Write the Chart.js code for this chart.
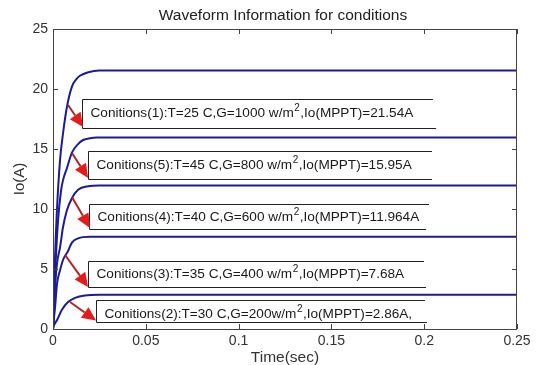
<!DOCTYPE html>
<html><head><meta charset="utf-8">
<script src="https://cdn.jsdelivr.net/npm/chart.js@4"></script>
<style>html,body{margin:0;padding:0;background:#fff}#c{display:block}</style>
</head><body>
<canvas id="c" width="537" height="365"></canvas>
<script>
// ---- data ----
const xTicks = [0, 0.05, 0.1, 0.15, 0.2, 0.25];
const yTicks = [0, 5, 10, 15, 20, 25];

const timeC1 = [0, 0.0005, 0.001, 0.002, 0.0038, 0.0054, 0.0075, 0.0102, 0.0125, 0.0145, 0.019, 0.025, 0.25];
const ioC1   = [0, 2.5, 5.5, 9.5, 14.1, 16.3, 18.5, 20.2, 20.8, 21.1, 21.4, 21.54, 21.54];

const timeC5 = [0, 0.0005, 0.0011, 0.0027, 0.0043, 0.0054, 0.0075, 0.0102, 0.0135, 0.0162, 0.02, 0.0237, 0.25];
const ioC5   = [0, 2, 4.5, 9, 11.5, 12.4, 13.4, 14.7, 15.4, 15.75, 15.9, 15.95, 15.95];

const timeC4 = [0, 0.0005, 0.0011, 0.0022, 0.0038, 0.0054, 0.0075, 0.0102, 0.0135, 0.0189, 0.025, 0.25];
const ioC4   = [0, 1.8, 3.5, 5.5, 6.8, 8.5, 9.9, 10.9, 11.6, 11.9, 11.964, 11.964];

const timeC3 = [0, 0.0005, 0.0011, 0.0022, 0.0038, 0.0054, 0.0081, 0.0102, 0.0135, 0.02, 0.25];
const ioC3   = [0, 0.9, 1.8, 3.8, 4.9, 5.75, 6.5, 7.2, 7.55, 7.68, 7.68];

const timeC2 = [0, 0.0005, 0.0022, 0.0048, 0.0081, 0.0119, 0.0172, 0.025, 0.25];
const ioC2   = [0, 0.3, 0.75, 1.6, 2.25, 2.6, 2.8, 2.86, 2.86];

const labelTexts = [
  "Conitions(1):T=25 C,G=1000 w/m^2,Io(MPPT)=21.54A",
  "Conitions(5):T=45 C,G=800 w/m^2,Io(MPPT)=15.95A",
  "Conitions(4):T=40 C,G=600 w/m^2,Io(MPPT)=11.964A",
  "Conitions(3):T=35 C,G=400 w/m^2,Io(MPPT)=7.68A",
  "Conitions(2):T=30 C,G=200w/m^2,Io(MPPT)=2.86A,"
];

// annotation placement in data units: box left, top, bottom, top-line end, bottom-line end, text y, arrow from (t,I) to (t,I)
const notes = [
  {x0:0.0156, top:19.17, bot:16.75, endTop:0.2047, endBot:0.2064, ty:17.95, a:[0.0081,18.67,0.0162,16.83]},
  {x0:0.0189, top:14.83, bot:12.5,  endTop:0.2042, endBot:0.2042, ty:13.67, a:[0.0102,14.67,0.0189,12.58]},
  {x0:0.0194, top:10.42, bot:8.33,  endTop:0.2026, endBot:0.201,  ty:9.3,  a:[0.0102,11.0,0.0199,8.42]},
  {x0:0.0189, top:5.67,  bot:3.5,   endTop:0.1999, endBot:0.201,  ty:4.55, a:[0.0065,6.17,0.0189,3.5]},
  {x0:0.0232, top:2.42,  bot:0.58,  endTop:0.2004, endBot:0.2015, ty:1.25, a:[0.0092,2.25,0.0232,0.7]}
];

const FONT = '"Liberation Sans", Arial, sans-serif';
const lineColor = '#1c1c96';

function pts(t, v){ return t.map((x,i)=>({x:x, y:v[i]})); }

const series = [[timeC1,ioC1],[timeC5,ioC5],[timeC4,ioC4],[timeC3,ioC3],[timeC2,ioC2]];

const overlay = {
  id:'overlay',
  afterDatasetsDraw(chart){
    const ctx = chart.ctx, xs = chart.scales.x, ys = chart.scales.y, a = chart.chartArea;
    ctx.save();
    // frame
    ctx.strokeStyle = '#444'; ctx.lineWidth = 1;
    ctx.strokeRect(Math.round(a.left)+0.5, Math.round(a.top)+0.5, Math.round(a.right-a.left)-1, Math.round(a.bottom-a.top));
    // inward ticks
    ctx.beginPath();
    xTicks.forEach(v=>{ const px = Math.round(xs.getPixelForValue(v))+0.5;
      ctx.moveTo(px, a.bottom); ctx.lineTo(px, a.bottom-5);
      ctx.moveTo(px, a.top); ctx.lineTo(px, a.top+5); });
    yTicks.forEach(v=>{ const py = Math.round(ys.getPixelForValue(v))+0.5;
      ctx.moveTo(a.left, py); ctx.lineTo(a.left+5, py);
      ctx.moveTo(a.right, py); ctx.lineTo(a.right-5, py); });
    ctx.stroke();

    // annotations
    notes.forEach((n,i)=>{
      const L = Math.round(xs.getPixelForValue(n.x0))+0.5;
      const T = Math.round(ys.getPixelForValue(n.top))+0.5;
      const B = Math.round(ys.getPixelForValue(n.bot))+0.5;
      const ET = xs.getPixelForValue(n.endTop), EB = xs.getPixelForValue(n.endBot);
      ctx.strokeStyle = '#222'; ctx.lineWidth = 1;
      ctx.beginPath();
      ctx.moveTo(ET, T); ctx.lineTo(L, T); ctx.lineTo(L, B); ctx.lineTo(EB, B);
      ctx.stroke();
      // text with superscript
      const ty = ys.getPixelForValue(n.ty);
      const parts = labelTexts[i].split('^2');
      let x = L + 8;
      ctx.fillStyle = '#1a1a1a'; ctx.textBaseline = 'middle'; ctx.textAlign = 'left';
      ctx.font = '13.6px ' + FONT;
      ctx.fillText(parts[0], x, ty); x += ctx.measureText(parts[0]).width;
      ctx.font = '10px ' + FONT;
      ctx.fillText('2', x + 0.5, ty-5); x += ctx.measureText('2').width + 1;
      ctx.font = '13.6px ' + FONT;
      ctx.fillText(parts[1], x, ty);
      // arrow
      const x1 = xs.getPixelForValue(n.a[0]), y1 = ys.getPixelForValue(n.a[1]);
      const x2 = xs.getPixelForValue(n.a[2]), y2 = ys.getPixelForValue(n.a[3]);
      const ang = Math.atan2(y2-y1, x2-x1), hl = 14, hw = 6.5;
      const bx = x2 - hl*Math.cos(ang), by = y2 - hl*Math.sin(ang);
      ctx.strokeStyle = '#b02424'; ctx.lineWidth = 2;
      ctx.beginPath(); ctx.moveTo(x1,y1); ctx.lineTo(bx,by); ctx.stroke();
      ctx.fillStyle = '#e41c1c';
      ctx.beginPath();
      ctx.moveTo(x2,y2);
      ctx.lineTo(bx + hw*Math.sin(ang), by - hw*Math.cos(ang));
      ctx.lineTo(bx - hw*Math.sin(ang), by + hw*Math.cos(ang));
      ctx.closePath(); ctx.fill();
    });

    // title
    ctx.fillStyle = '#222'; ctx.font = '15.5px ' + FONT; ctx.textAlign = 'center'; ctx.textBaseline = 'middle';
    ctx.fillText('Waveform Information for conditions', 283, 16);
    ctx.restore();
  }
};

new Chart(document.getElementById('c'), {
  type: 'line',
  data: {
    datasets: series.map((s,i)=>({
      label: 'C' + i,
      data: pts(s[0], s[1]),
      borderColor: lineColor, borderWidth: 2, pointRadius: 0,
      cubicInterpolationMode: 'monotone', fill: false
    }))
  },
  options: {
    responsive: false, animation: false, devicePixelRatio: 1,
    layout: { padding: { left: 0, right: 20, top: 29, bottom: 0 } },
    plugins: { legend: { display: false }, tooltip: { enabled: false }, title: { display: false } },
    scales: {
      x: {
        type: 'linear', min: 0, max: 0.25,
        afterBuildTicks(s){ s.ticks = xTicks.map(v=>({value:v})); },
        ticks: { callback: v => String(+v.toFixed(2)), font: { family: FONT, size: 14 }, color: '#333', padding: 4, maxRotation: 0, autoSkip: false },
        grid: { display: false, drawTicks: false }, border: { display: false },
        title: { display: true, text: 'Time(sec)', font: { family: FONT, size: 15.5, lineHeight: 1 }, color: '#333', padding: { top: 0, bottom: 0 } },
        afterFit(s){ s.height = 36; }
      },
      y: {
        min: 0, max: 25,
        afterBuildTicks(s){ s.ticks = yTicks.map(v=>({value:v})); },
        ticks: { font: { family: FONT, size: 14 }, color: '#333', padding: 5 },
        grid: { display: false, drawTicks: false }, border: { display: false },
        title: { display: true, text: 'Io(A)', font: { family: FONT, size: 15, lineHeight: 1 }, color: '#333', padding: { top: 12, bottom: 0 } },
        afterFit(s){ s.width = 53; }
      }
    }
  },
  plugins: [overlay]
});
</script>
</body></html>
